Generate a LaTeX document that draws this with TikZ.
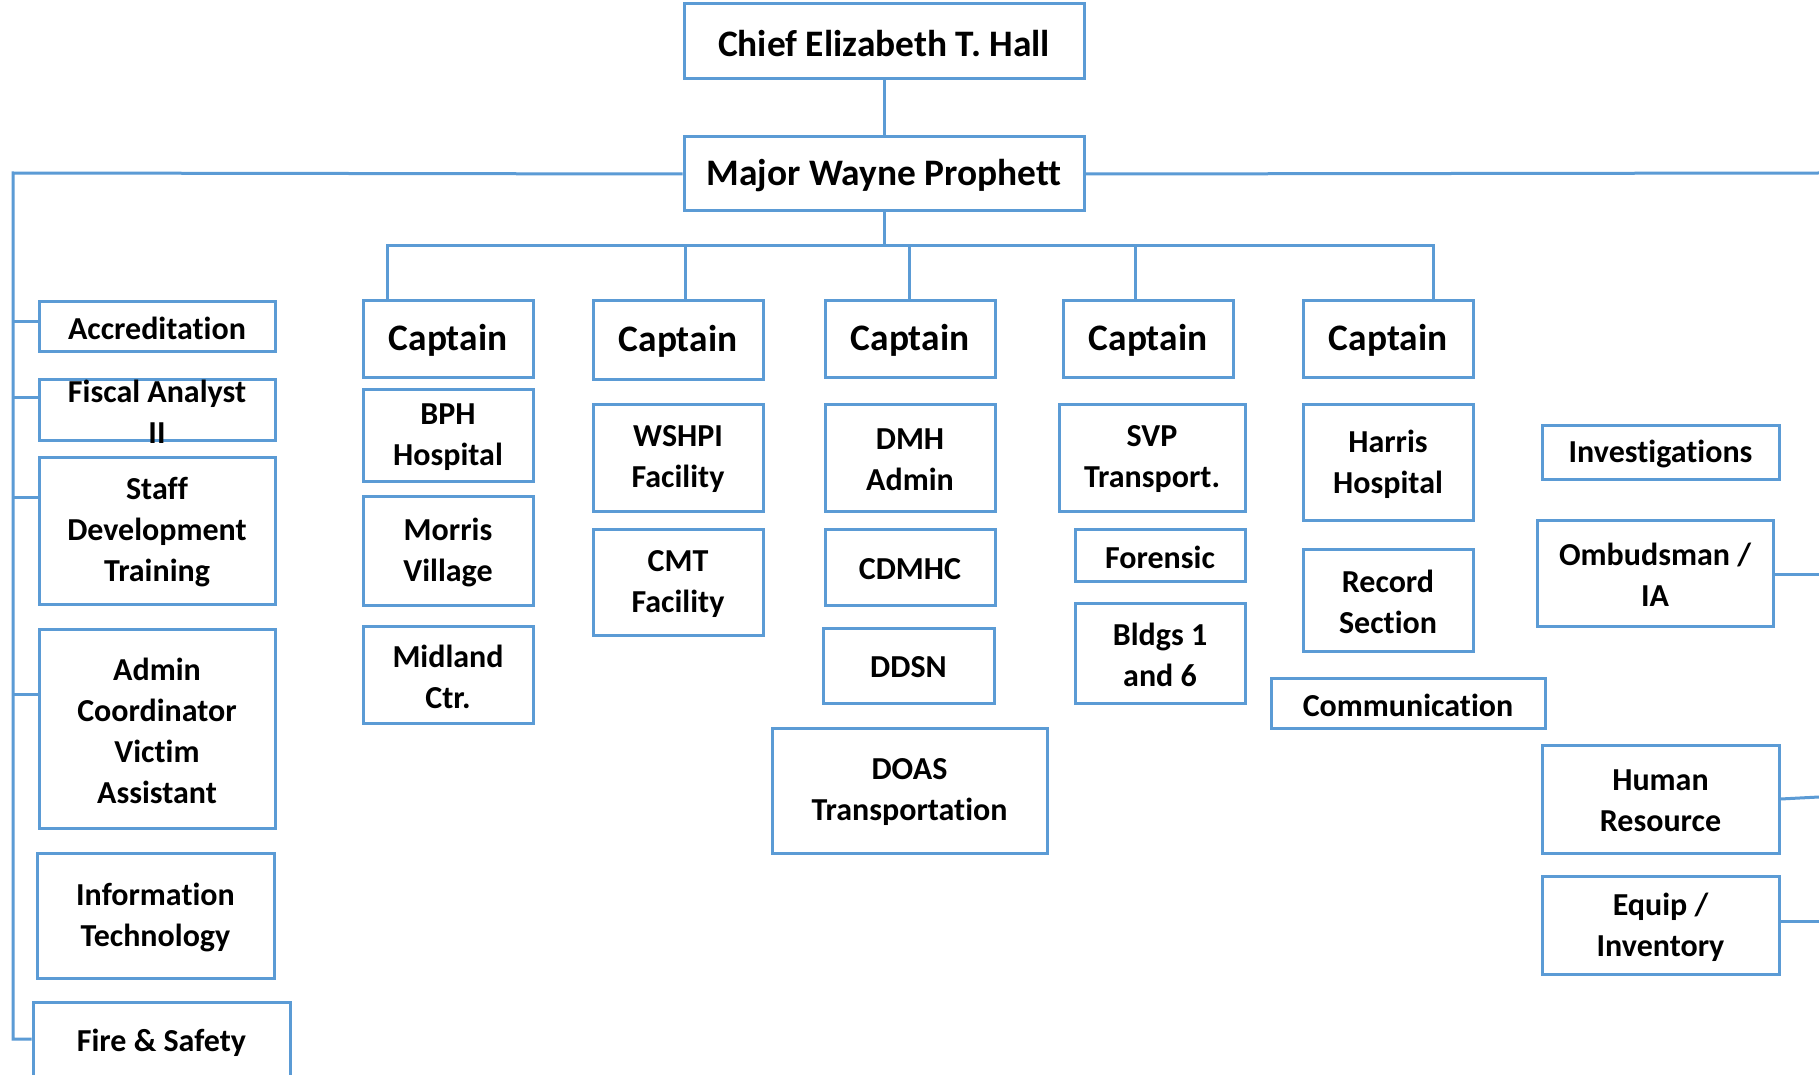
\documentclass[tikz,border=0pt]{standalone}
\usepackage{fontspec}
\setmainfont{Carlito}[Ligatures=NoCommon]
\definecolor{orgblue}{HTML}{5B9BD5}
\tikzset{
  obox/.style={draw=orgblue, line width=1.5pt, rectangle, inner sep=0pt},
  lbl/.style={align=center, font=\fontsize{16}{20.5}\selectfont\bfseries, inner sep=0pt, text=black, yshift=-1pt},
  biglbl/.style={lbl, font=\fontsize{18.7}{22}\selectfont\bfseries},
  conn/.style={draw=orgblue, line width=1.5pt}
}
% [label style]{name}{x1}{y1}{x2}{y2}{text}
\newcommand{\orgbox}[7][lbl]{\node[obox,minimum width={(#5-#3)*0.5pt},minimum height={(#6-#4)*0.5pt},label={[#1]center:#7}] (#2) at ({(#3+#5)/2},{(#4+#6)/2}) {};}
\begin{document}
\begin{tikzpicture}[x=0.5pt,y=-0.5pt]
\fill[white] (0,0) rectangle (1819,1075);
\useasboundingbox (0,0) rectangle (1819,1075);

% top
\orgbox[biglbl]{chief}{684}{4}{1084}{79}{Chief Elizabeth T. Hall}
\orgbox[biglbl]{major}{684}{137}{1084}{211}{Major Wayne Prophett}

% captains
\orgbox[biglbl]{capA}{363}{300}{533}{377}{Captain}
\orgbox[biglbl]{capB}{593}{300}{763}{379}{Captain}
\orgbox[biglbl]{capC}{825}{300}{995}{377}{Captain}
\orgbox[biglbl]{capD}{1063}{300}{1233}{377}{Captain}
\orgbox[biglbl]{capE}{1303}{300}{1473}{377}{Captain}

% column boxes
\orgbox{bph}{363}{389}{533}{481}{BPH\\Hospital}
\orgbox{morris}{363}{496}{533}{605}{Morris\\Village}
\orgbox{midland}{363}{626}{533}{723}{Midland\\Ctr.}
\orgbox{wshpi}{593}{404}{763}{511}{WSHPI\\Facility}
\orgbox{cmt}{593}{529}{763}{635}{CMT\\Facility}
\orgbox{dmh}{825}{404}{995}{511}{DMH\\Admin}
\orgbox{cdmhc}{825}{529}{995}{605}{CDMHC}
\orgbox{ddsn}{823}{628}{994}{703}{DDSN}
\orgbox{doas}{772}{728}{1047}{853}{DOAS\\Transportation}
\orgbox{svp}{1059}{404}{1245}{511}{SVP\\Transport.}
\orgbox{foren}{1075}{529}{1245}{581}{Forensic}
\orgbox{bldgs}{1075}{603}{1245}{703}{Bldgs 1\\and 6}
\orgbox{harris}{1303}{404}{1473}{520}{Harris\\Hospital}
\orgbox{record}{1303}{549}{1473}{651}{Record\\Section}
\orgbox{comm}{1271}{678}{1545}{728}{Communication}

% left boxes
\orgbox{accr}{39}{301}{275}{351}{Accreditation}
\orgbox{fisc}{39}{379}{275}{440}{Fiscal Analyst\\II}
\orgbox{staff}{39}{457}{275}{604}{Staff\\Development\\Training}
\orgbox{admin}{39}{629}{275}{828}{Admin\\Coordinator\\Victim\\Assistant}
\orgbox{infot}{37}{853}{274}{978}{Information\\Technology}
\orgbox{fire}{33}{1002}{290}{1080}{Fire \& Safety}

% right boxes
\orgbox{invest}{1542}{425}{1779}{479}{Investigations}
\orgbox{ombud}{1537}{520}{1773}{626}{Ombudsman /\\IA}
\orgbox{human}{1542}{745}{1779}{853}{Human\\Resource}
\orgbox{equip}{1542}{876}{1779}{974}{Equip /\\Inventory}

% connectors: top
\draw[conn] (chief) -- (major);
\coordinate (busA) at (387,246);
\coordinate (busB) at (685,246);
\coordinate (busC) at (909,246);
\coordinate (busD) at (1135,246);
\coordinate (busE) at (1433,246);
\draw[conn] (major.south) -- (major.south |- busA);
\draw[conn] (busA |- capA.north) -- (busA) -- (busE) -- (busE |- capE.north);
\draw[conn] (busB) -- (busB |- capB.north);
\draw[conn] (busC) -- (busC |- capC.north);
\draw[conn] (busD) -- (busD |- capD.north);

% left trunk
\coordinate (lTop) at (13,173);
\coordinate (lBot) at (13,1039);
\draw[conn] (major.west) -- (lTop) -- (lBot) -- (fire.west |- lBot);
\coordinate (lA) at (13,321);
\coordinate (lB) at (13,397);
\coordinate (lC) at (13,497);
\coordinate (lD) at (13,694);
\draw[conn] (lA) -- (lA -| accr.west);
\draw[conn] (lB) -- (lB -| fisc.west);
\draw[conn] (lC) -- (lC -| staff.west);
\draw[conn] (lD) -- (lD -| admin.west);

% right trunk
\coordinate (rTop) at (1819,173);
\draw[conn] (major.east) -- (rTop);
\coordinate (rB) at (1819,574);
\coordinate (rC) at (1819,797);
\coordinate (rD) at (1819,921);
\draw[conn] (ombud.east |- rB) -- (rB);
\draw[conn] (human.east) -- (rC);
\draw[conn] (equip.east |- rD) -- (rD);
\end{tikzpicture}
\end{document}
